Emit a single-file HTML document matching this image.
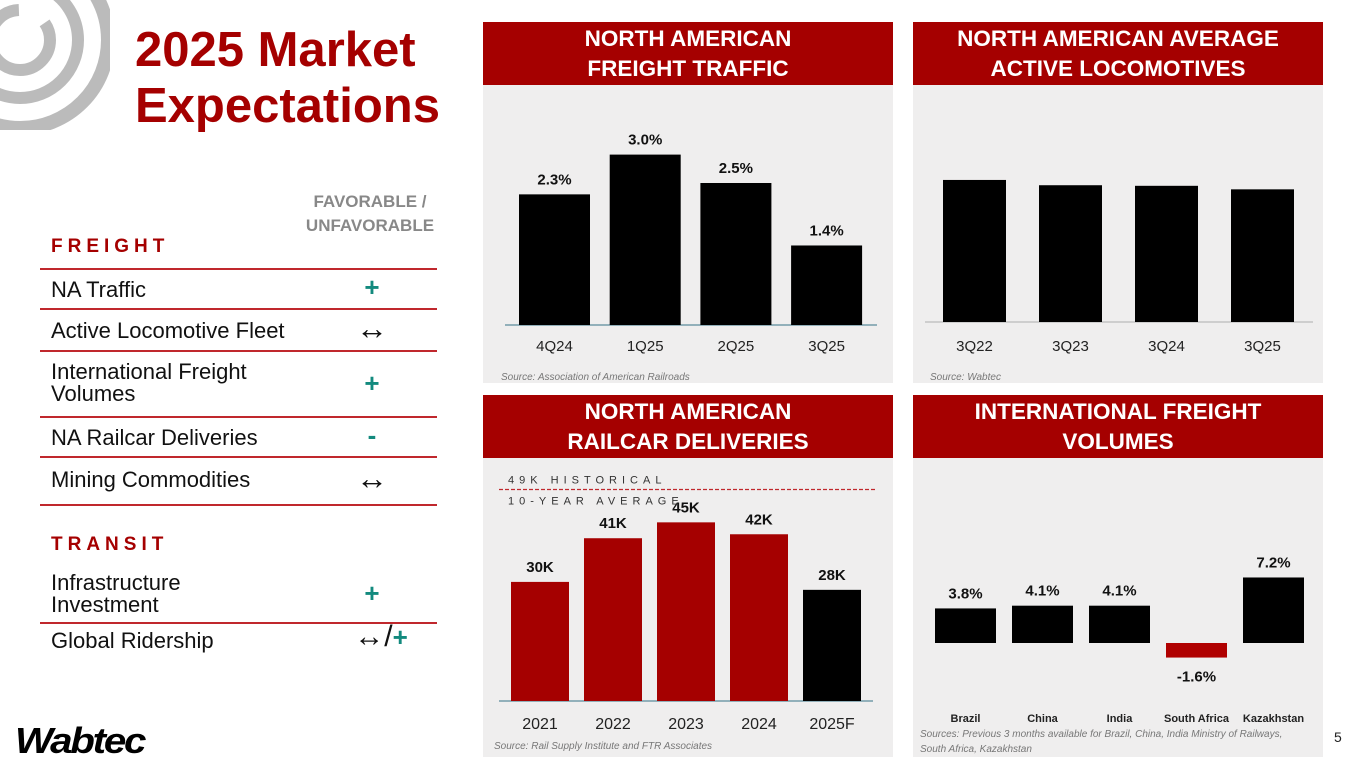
<!DOCTYPE html>
<html><head><meta charset="utf-8"><style>
body{margin:0;width:1365px;height:768px;background:#fff;position:relative;overflow:hidden;font-family:"Liberation Sans",sans-serif}
.a{position:absolute}
.title{left:135px;top:22px;color:#a50000;font-weight:bold;font-size:49px;line-height:56px}
.hd{background:#a50000;color:#fff;font-weight:bold;font-size:22.5px;text-align:center;line-height:30px;display:flex;align-items:center;justify-content:center;width:410px;height:63px}
.bd{background:#efeeee;width:410px}
.row{left:40px;width:397px;border-top:2px solid #c0282d;font-size:22px;color:#111}
.row span{position:absolute;left:11px}
.ic{position:absolute;left:322px;width:20px;text-align:center;color:#138a7e;font-weight:bold;font-size:26px}
.ar{color:#111;font-weight:normal;font-size:32px;left:316px;width:32px}
.sec{left:51px;color:#a50000;font-weight:bold;font-size:19px;letter-spacing:5px}
</style></head><body>
<svg class="a" style="left:0;top:0" width="110" height="130"><circle cx="20" cy="40" r="88" fill="none" stroke="#bbb" stroke-width="14" stroke-dasharray="420 40"/><circle cx="20" cy="40" r="58" fill="none" stroke="#bbb" stroke-width="12" stroke-dasharray="260 40"/><circle cx="20" cy="40" r="30" fill="none" stroke="#bbb" stroke-width="12" stroke-dasharray="140 30"/></svg>
<div class="a title">2025 Market<br>Expectations</div>
<div class="a" style="left:300px;top:190px;width:140px;text-align:center;color:#888;font-weight:bold;font-size:17px;line-height:24px">FAVORABLE /<br>UNFAVORABLE</div>
<div class="a sec" style="top:236px">FREIGHT</div>
<div class="a row" style="top:268px;height:40px"><span style="top:7px">NA Traffic</span><div class="ic" style="top:2px">+</div></div>
<div class="a row" style="top:308px;height:42px"><span style="top:8px">Active Locomotive Fleet</span><div class="ic ar" style="top:0">↔</div></div>
<div class="a row" style="top:350px;height:66px"><span style="top:9px;line-height:22px">International Freight<br>Volumes</span><div class="ic" style="top:16px">+</div></div>
<div class="a row" style="top:416px;height:40px"><span style="top:7px">NA Railcar Deliveries</span><div class="ic" style="top:2px">-</div></div>
<div class="a row" style="top:456px;height:46px;border-bottom:2px solid #c0282d"><span style="top:9px">Mining Commodities</span><div class="ic ar" style="top:2px">↔</div></div>
<div class="a sec" style="top:534px">TRANSIT</div>
<div class="a row" style="top:568px;height:54px;border-top:none;border-bottom:2px solid #c0282d"><span style="top:4px;line-height:22px">Infrastructure<br>Investment</span><div class="ic" style="top:10px">+</div></div>
<div class="a row" style="top:624px;height:36px;border-top:none"><span style="top:4px">Global Ridership</span><div class="ic" style="top:-4px;left:306px;width:70px;font-size:26px"><span style="position:static;color:#111;font-weight:normal;font-size:30px">↔/</span>+</div></div>
<div class="a" style="left:15px;top:720px;font-size:36px;font-weight:900;font-style:italic;letter-spacing:-2px;color:#000;transform:scaleX(1.12);transform-origin:left">Wabtec</div>
<div class="a" style="left:1334px;top:729px;font-size:14px;color:#222">5</div>

<div class="a hd" style="left:483px;top:22px">NORTH AMERICAN<br>FREIGHT TRAFFIC</div>
<div class="a bd" style="left:483px;top:85px;height:298px"></div>
<div class="a hd" style="left:913px;top:22px">NORTH AMERICAN AVERAGE<br>ACTIVE LOCOMOTIVES</div>
<div class="a bd" style="left:913px;top:85px;height:298px"></div>
<div class="a hd" style="left:483px;top:395px">NORTH AMERICAN<br>RAILCAR DELIVERIES</div>
<div class="a bd" style="left:483px;top:458px;height:299px"></div>
<div class="a hd" style="left:913px;top:395px">INTERNATIONAL FREIGHT<br>VOLUMES</div>
<div class="a bd" style="left:913px;top:458px;height:299px"></div>

<svg id="s" class="a" style="left:0;top:0" width="1365" height="768" font-family="Liberation Sans, sans-serif"></svg>
<script>
const ftCats=["4Q24","1Q25","2Q25","3Q25"];
const ftVals=[2.3,3.0,2.5,1.4];
const ftLabels=["2.3%","3.0%","2.5%","1.4%"];
const locoCats=["3Q22","3Q23","3Q24","3Q25"];
const locoVals=[24.2,23.3,23.2,22.6];
const rcCats=["2021","2022","2023","2024","2025F"];
const rcVals=[30,41,45,42,28];
const rcLabels=["30K","41K","45K","42K","28K"];
const rcAvg=49;
const inCats=["Brazil","China","India","South Africa","Kazakhstan"];
const inVals=[3.8,4.1,4.1,-1.6,7.2];
const inLabels=["3.8%","4.1%","4.1%","-1.6%","7.2%"];

const s=document.getElementById('s');
function el(t,a,txt){const e=document.createElementNS('http://www.w3.org/2000/svg',t);for(const k in a)e.setAttribute(k,a[k]);if(txt!=null)e.textContent=txt;s.appendChild(e);return e;}
function chart(o){
  const n=o.cats.length;
  const x=i=>o.x0+i*o.step;
  const y=v=>o.base-v*o.k;
  const ax=el('line',{x1:o.ax0,x2:o.ax1,y1:o.base,y2:o.base,stroke:o.axc||'#5a8a9a','stroke-width':1.2});
  
  
  for(let i=0;i<n;i++){
    const v=o.vals[i];
    const r=el('rect',{x:x(i),y:Math.min(y(v),o.base),width:o.w,height:Math.abs(y(v)-o.base),fill:o.color(i,v)});
    
    
    if(o.labels){
      const ly=v>=0?y(v)-10:y(v)+24;
      const t=el('text',{x:x(i)+o.w/2,y:ly,'text-anchor':'middle','font-size':o.lfs||15,'font-weight':'bold',fill:'#111'},o.labels[i]);
      
      
    }
    const c=el('text',{x:x(i)+o.w/2,y:o.cy,'text-anchor':'middle','font-size':o.cfs||15,'font-weight':o.cb?'bold':'normal',fill:'#222'},o.cats[i]);
    
    
  }
}
chart({name:'freight-traffic',cats:ftCats,vals:ftVals,labels:ftLabels,x0:519,step:90.7,w:71,base:325,k:56.8,ax0:505,ax1:877,cy:351,color:()=>'#000'});
chart({name:'locomotives',cats:locoCats,vals:locoVals,x0:943,step:96,w:63,base:322,k:5.87,ax0:925,ax1:1313,axc:'#bbb',cy:351,color:()=>'#000'});
chart({name:'railcar',cats:rcCats,vals:rcVals,labels:rcLabels,x0:511,step:73,w:58,base:701,k:3.97,ax0:499,ax1:873,cy:729,cfs:16,color:i=>i==rcCats.length-1?'#000':'#a50000'});
chart({name:'intl',cats:inCats,vals:inVals,labels:inLabels,x0:935,step:77,w:61,base:643,k:9.1,ax0:925,ax1:1313,axc:'transparent',cy:722,cfs:11,cb:true,color:(i,v)=>v<0?'#b00000':'#000'});
const avgY=701-rcAvg*3.97-17;
const dl=el('line',{x1:499,x2:877,y1:avgY,y2:avgY,stroke:'#c0282d','stroke-width':1.2,'stroke-dasharray':'4 2'});


const t1=el('text',{x:508,y:avgY-6,'font-size':11,'letter-spacing':5,fill:'#333'},'49K HISTORICAL');


const t2=el('text',{x:508,y:avgY+15,'font-size':11,'letter-spacing':5,fill:'#333'},'10-YEAR AVERAGE');


const src=[[501,380,'Source: Association of American Railroads'],[930,380,'Source: Wabtec'],[494,749,'Source: Rail Supply Institute and FTR Associates'],[920,737,'Sources: Previous 3 months available for Brazil, China, India Ministry of Railways,'],[920,752,'South Africa, Kazakhstan']];
src.forEach(a=>{const t=el('text',{x:a[0],y:a[1],'font-size':10,'font-style':'italic',fill:'#777'},a[2]);

});
</script>
</body></html>
